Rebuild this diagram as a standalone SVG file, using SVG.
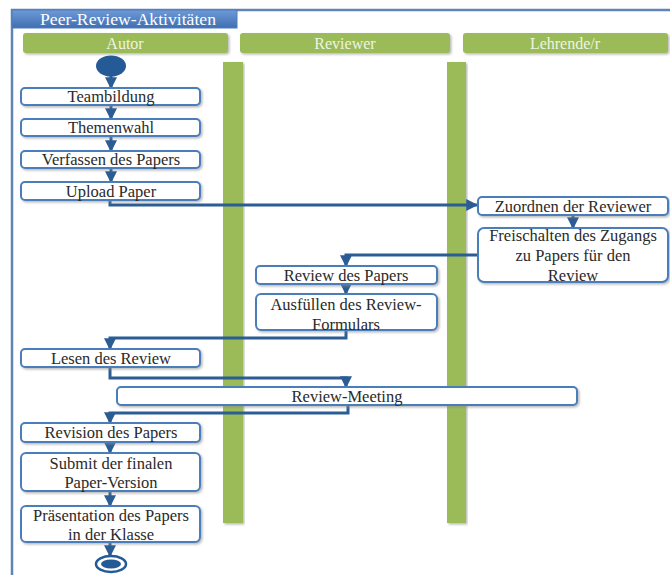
<svg xmlns="http://www.w3.org/2000/svg" width="670" height="575" viewBox="0 0 670 575">
<style>
.box{fill:#ffffff;stroke:#4a7ebb;stroke-width:2;filter:url(#sh)}
.lbl{font-family:"Liberation Serif","Times New Roman",serif;font-size:16.5px;fill:#2a2a2a;text-anchor:middle}
.hdr{fill:#9bbb59;filter:url(#sh)}
.htxt{font-family:"Liberation Serif","Times New Roman",serif;font-size:16px;fill:#eef4e2;text-anchor:middle}
.bar{fill:#9bbb59;filter:url(#sh)}
.con{fill:none;stroke:#2b5c94;stroke-width:3;marker-end:url(#ah)}
</style>
<defs>
<filter id="sh" x="-10%" y="-20%" width="120%" height="160%">
<feDropShadow dx="1.5" dy="1.5" stdDeviation="1" flood-color="#8a8a8a" flood-opacity="0.6"/>
</filter>
<marker id="ah" viewBox="0 0 10 10" refX="9" refY="5" markerWidth="4" markerHeight="4" orient="auto" markerUnits="strokeWidth">
<path d="M0,0 L10,5 L0,10 z" fill="#2b5c94"/>
</marker>
<linearGradient id="tg" x1="0" y1="0" x2="0" y2="1">
<stop offset="0" stop-color="#6f9ad6"/>
<stop offset="1" stop-color="#3e6fb2"/>
</linearGradient>
</defs>
<rect width="670" height="575" fill="#ffffff"/>
<g id="frame">
<path d="M12,575 V10 H670" fill="none" stroke="#5f84b8" stroke-width="2.5"/>
<rect x="12" y="10" width="225" height="18" fill="url(#tg)" stroke="#4f7cb8" stroke-width="1"/>
<text x="128" y="25" class="htxt" style="fill:#ffffff" textLength="176" lengthAdjust="spacingAndGlyphs">Peer-Review-Aktivitäten</text>
</g>
<g id="lane-autor">
<rect class="hdr" x="23" y="33" width="205" height="20" rx="3"/>
<text class="htxt" x="125" y="49">Autor</text>
</g>
<g id="lane-reviewer">
<rect class="hdr" x="240" y="33" width="210" height="20" rx="3"/>
<text class="htxt" x="345" y="49">Reviewer</text>
</g>
<g id="lane-lehrende">
<rect class="hdr" x="463" y="33" width="205" height="20" rx="3"/>
<text class="htxt" x="565" y="49">Lehrende/r</text>
</g>
<g id="separators">
<rect class="bar" x="223" y="62" width="20" height="461"/>
<rect class="bar" x="447" y="62" width="19" height="461"/>
</g>
<g id="connectors">
<path class="con" d="M111,76 V88"/>
<path class="con" d="M111,105 V119"/>
<path class="con" d="M111,136 V151"/>
<path class="con" d="M111,168 V182"/>
<path class="con" d="M110,200 V205 H477"/>
<path class="con" d="M573,215 V228"/>
<path class="con" d="M478,255 H346 V266"/>
<path class="con" d="M346,284 V294"/>
<path class="con" d="M346,330 V338 H110 V349"/>
<path class="con" d="M110,367 V378 H346 V387"/>
<path class="con" d="M348,405 V413 H110 V423"/>
<path class="con" d="M110,442 V453"/>
<path class="con" d="M110,491 V506"/>
<path class="con" d="M110,542 V556"/>
</g>
<g id="start">
<ellipse cx="111" cy="66" rx="15" ry="10.5" fill="#245a96"/>
</g>
<g id="teambildung">
<rect class="box" x="21" y="88" width="179" height="17" rx="4"/>
<text class="lbl" x="111" y="102">Teambildung</text>
</g>
<g id="themenwahl">
<rect class="box" x="21" y="119" width="179" height="17" rx="4"/>
<text class="lbl" x="111" y="133">Themenwahl</text>
</g>
<g id="verfassen">
<rect class="box" x="21" y="151" width="179" height="17" rx="4"/>
<text class="lbl" x="111" y="165">Verfassen des Papers</text>
</g>
<g id="upload">
<rect class="box" x="21" y="182" width="179" height="18" rx="4"/>
<text class="lbl" x="111" y="197">Upload Paper</text>
</g>
<g id="zuordnen">
<rect class="box" x="478" y="197" width="190" height="18" rx="4"/>
<text class="lbl" x="573" y="212">Zuordnen der Reviewer</text>
</g>
<g id="freischalten">
<rect class="box" x="478" y="228" width="190" height="54" rx="6"/>
<text class="lbl" x="573" y="241">Freischalten des Zugangs</text>
<text class="lbl" x="573" y="261">zu Papers für den</text>
<text class="lbl" x="573" y="281">Review</text>
</g>
<g id="review-papers">
<rect class="box" x="256" y="266" width="181" height="18" rx="4"/>
<text class="lbl" x="346" y="281">Review des Papers</text>
</g>
<g id="ausfuellen">
<rect class="box" x="256" y="294" width="181" height="36" rx="5"/>
<text class="lbl" x="346" y="310">Ausfüllen des Review-</text>
<text class="lbl" x="346" y="330">Formulars</text>
</g>
<g id="lesen">
<rect class="box" x="21" y="349" width="179" height="18" rx="4"/>
<text class="lbl" x="111" y="364">Lesen des Review</text>
</g>
<g id="review-meeting">
<rect class="box" x="117" y="387" width="460" height="18" rx="4"/>
<text class="lbl" x="347" y="402">Review-Meeting</text>
</g>
<g id="revision">
<rect class="box" x="21" y="423" width="179" height="19" rx="4"/>
<text class="lbl" x="111" y="438">Revision des Papers</text>
</g>
<g id="submit">
<rect class="box" x="21" y="453" width="179" height="38" rx="5"/>
<text class="lbl" x="111" y="469">Submit der finalen</text>
<text class="lbl" x="111" y="488">Paper-Version</text>
</g>
<g id="praesentation">
<rect class="box" x="21" y="506" width="179" height="36" rx="5"/>
<text class="lbl" x="111" y="521">Präsentation des Papers</text>
<text class="lbl" x="111" y="540">in der Klasse</text>
</g>
<g id="end">
<ellipse cx="111" cy="564" rx="15" ry="8" fill="#ffffff" stroke="#245a96" stroke-width="2.5"/>
<ellipse cx="111" cy="564" rx="10" ry="4.5" fill="#245a96"/>
</g>
</svg>
